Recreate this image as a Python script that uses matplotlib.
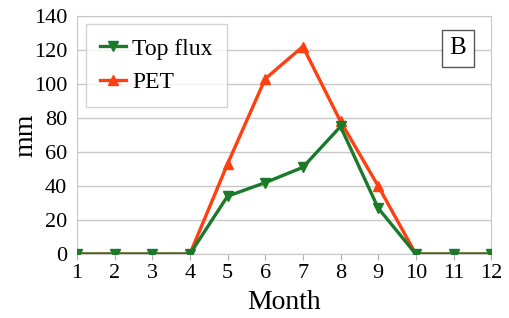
import numpy as np
import matplotlib.pyplot as plt

months = list(range(1, 13))
top_flux = [0, 0, 0, 0, 34, 42, 51, 75, 27, 0, 0, 0]
pet = [0, 0, 0, 0, 53, 103, 122, 78, 40, 0, 0, 0]

plt.rcParams['font.family'] = ['Liberation Serif', 'DejaVu Serif']

fig = plt.figure(figsize=(5.09, 3.18), dpi=100)
ax = fig.add_axes([0.151, 0.201, 0.814, 0.749])

ax.plot(months, pet, color="#ff3f0f", lw=2.4, marker="^", markersize=7.5, label="PET", zorder=3)
ax.plot(months, top_flux, color="#1a7a2a", lw=2.4, marker="v", markersize=7.5, label="Top flux", zorder=4)

ax.set_xlim(1, 12)
ax.set_ylim(0, 140)
ax.set_xticks(months)
ax.set_yticks(range(0, 141, 20))
ax.yaxis.grid(True, color="#c8c8c8", lw=1)
ax.set_axisbelow(True)
for s in ax.spines.values():
    s.set_color("#c8c8c8")
ax.tick_params(axis="x", colors="#b0b0b0", labelcolor="black", labelsize=16, length=4, pad=3)
ax.tick_params(axis="y", length=0, labelsize=16, pad=7)
ax.set_xlabel("Month", fontsize=20, labelpad=5)
ax.set_ylabel("mm", fontsize=20, labelpad=-3)

handles, labels = ax.get_legend_handles_labels()
leg = ax.legend(handles[::-1], labels[::-1], loc="upper left", bbox_to_anchor=(0.022, 0.966),
                borderaxespad=0, fontsize=17, frameon=True, fancybox=False, edgecolor="#c8c8c8",
                handlelength=1.1, handletextpad=0.25, labelspacing=0.5, borderpad=0.6)
leg.get_frame().set_linewidth(1)

ax.text(0.92, 0.865, "B", transform=ax.transAxes, fontsize=18, ha="center", va="center",
        bbox=dict(boxstyle="square,pad=0.3", fc="white", ec="#555555", lw=1))

fig.savefig("out.png", dpi=100)
